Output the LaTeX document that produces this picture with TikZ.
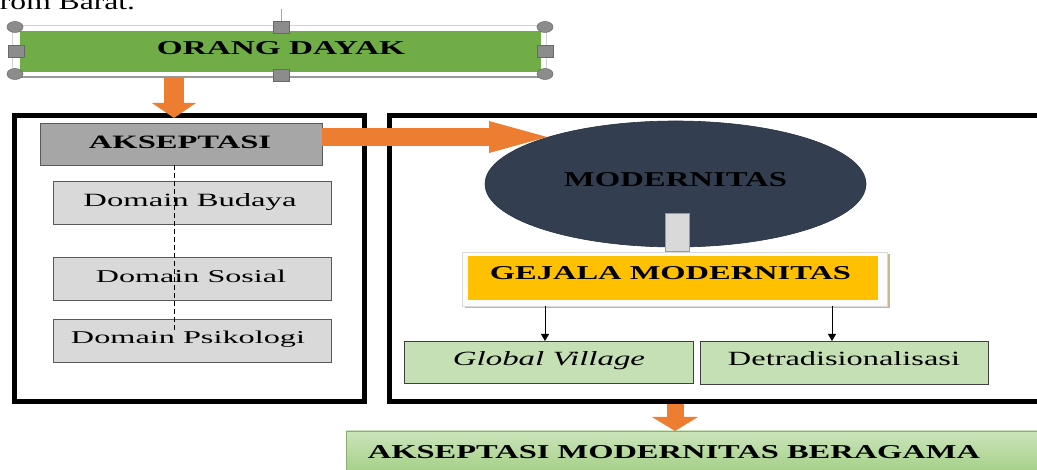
\documentclass[tikz,border=0pt]{standalone}
\usepackage{fontspec}
\setmainfont{Liberation Serif}
\usepackage{graphicx}
\usetikzlibrary{arrows.meta,shapes.geometric}
\definecolor{ogreen}{HTML}{70AD47}
\definecolor{oorange}{HTML}{ED7D31}
\definecolor{akgray}{HTML}{A6A6A6}
\definecolor{domgray}{HTML}{D9D9D9}
\definecolor{navy}{HTML}{333F50}
\definecolor{gold}{HTML}{FFC000}
\definecolor{lgreen}{HTML}{C5E0B4}
\definecolor{bgreen}{HTML}{A2CE84}
\definecolor{handle}{HTML}{8C8C8C}
\definecolor{tan}{HTML}{C9BA8E}
\newcommand{\fitt}[3]{\resizebox{#1pt}{#2pt}{#3}}
\begin{document}
\begin{tikzpicture}[x=1pt,y=-1pt,
  txt/.style={anchor=base,inner sep=0pt,outer sep=0pt},
  rbox/.style={rectangle,inner sep=0pt,outer sep=0pt,line width=0.8pt},
  bigbox/.style={rectangle,draw=black,line width=5pt,inner sep=0pt,outer sep=0pt},
  handleE/.style={ellipse,fill=handle,draw=handle!75!black,line width=0.5pt,minimum width=16pt,minimum height=11pt,inner sep=0pt},
  handleS/.style={rectangle,fill=handle,draw=handle!75!black,line width=0.5pt,minimum width=16pt,minimum height=12pt,inner sep=0pt},
  fatarrow/.style={draw=oorange,line width=#1},
  thinarrow/.style={draw=black,line width=0.8pt,-{Triangle[length=7pt,width=8pt]}}]
\useasboundingbox (0,0) rectangle (1037,470);
\clip (0,0) rectangle (1037,470);

% partial text at top
\node[txt] (top) at (67.5,10) {\fitt{135}{15}{rom Barat.}};

% ORANG DAYAK
\draw[gray!70,line width=0.6pt] (281,9) -- (281,21);
\node[rbox,fill=white,draw=gray!35,minimum width=534pt,minimum height=52pt] (orangframe) at (279,51) {};
\draw[gray!80,line width=1.2pt] (orangframe.south west) -- (orangframe.south east);
\node[rbox,fill=ogreen,minimum width=521pt,minimum height=41pt] (orang) at (280.5,51.5) {};
\node[txt] (t-orang) at (281,55) {\fitt{248}{13}{\bfseries ORANG DAYAK}};
\node[handleE] (h1) at (15,27) {};
\node[handleE] (h2) at (545,27) {};
\node[handleE] (h3) at (15,74) {};
\node[handleE] (h4) at (545,74) {};
\node[handleS] (h5) at (16,51) {};
\node[handleS] (h6) at (545,51) {};
\node[handleS] (h7) at (281,27) {};
\node[handleS] (h8) at (281,75) {};

% big containers
\node[bigbox,minimum width=350pt,minimum height=286pt] (leftbox) at (189.5,258.5) {};
\node[bigbox,minimum width=660pt,minimum height=286pt] (rightbox) at (719.5,258.5) {};

% left column
\node[rbox,fill=akgray,draw=black!65,minimum width=282pt,minimum height=42pt] (aks) at (181,144) {};
\node[txt] (t-aks) at (180,149) {\fitt{182}{12.5}{\bfseries AKSEPTASI}};
\node[rbox,fill=domgray,draw=black!65,minimum width=278pt,minimum height=43pt] (dbud) at (192,202.5) {};
\node[txt] (t-dbud) at (190,207) {\fitt{213}{13}{Domain Budaya}};
\node[rbox,fill=domgray,draw=black!65,minimum width=278pt,minimum height=43pt] (dsos) at (192,278.5) {};
\node[txt] (t-dsos) at (191,283) {\fitt{190}{12.5}{Domain Sosial}};
\node[rbox,fill=domgray,draw=black!65,minimum width=278pt,minimum height=43pt] (dpsi) at (192,340.5) {};
\node[txt] (t-dpsi) at (188,344) {\fitt{234}{12.5}{Domain Psikologi}};
\coordinate (dashend) at (174,330);
\draw[black,line width=1pt,dash pattern=on 5pt off 3pt] (aks.south -| dashend) -- (dashend);

% right column
\node[ellipse,fill=navy,draw=navy!80!black,line width=0.6pt,minimum width=381pt,minimum height=126pt,inner sep=0pt] (modern) at (675.5,184) {};
\node[txt] (t-modern) at (675.5,187) {\fitt{223}{14}{\bfseries MODERNITAS}};
\node[rbox,fill=domgray,draw=gray!80,minimum width=24pt,minimum height=38pt] (link) at (677,232) {};
\node[rbox,fill=tan,minimum width=425pt,minimum height=54pt] (gshadow) at (677.5,281) {};
\node[rbox,fill=white!97!gray,draw=gray!30,line width=0.5pt,minimum width=425pt,minimum height=54pt] (gframe) at (674.5,279) {};
\node[rbox,fill=gold,minimum width=410pt,minimum height=44pt] (gejala) at (673,278) {};
\node[txt] (t-gejala) at (670.5,280) {\fitt{361}{13}{\bfseries GEJALA MODERNITAS}};
\node[rbox,fill=lgreen,draw=black!75,minimum width=289pt,minimum height=42pt] (gv) at (548.5,362) {};
\node[txt] (t-gv) at (549,366) {\fitt{192}{14}{\itshape Global Village}};
\node[rbox,fill=lgreen,draw=black!75,minimum width=288pt,minimum height=43pt] (detr) at (844,362.5) {};
\node[txt] (t-detr) at (844,366) {\fitt{232}{14}{Detradisionalisasi}};
\coordinate (ga) at (545,306);
\coordinate (gb) at (832,306);
\draw[thinarrow] (ga) -- (gv.north -| ga);
\draw[thinarrow] (gb) -- (detr.north -| gb);

% bottom box
\node[rbox,top color=bgreen!55!white,bottom color=bgreen,draw=bgreen!85!black,line width=0.6pt,minimum width=699pt,minimum height=44pt] (final) at (695.5,453) {};
\node[txt] (t-final) at (674,458) {\fitt{612}{13}{\bfseries AKSEPTASI MODERNITAS BERAGAMA}};

% orange arrows
\coordinate (a1) at (174,77);
\coordinate (a1t) at (174,118);
\draw[fatarrow=20pt,-{Triangle[length=15pt,width=44pt,line width=0pt]}] (a1) -- (a1t);
\coordinate (a2) at (322,137);
\coordinate (a2t) at (547,137);
\draw[fatarrow=18pt,-{Triangle[length=58pt,width=32pt,line width=0pt]}] (a2) -- (a2t);
\coordinate (a3) at (675,404);
\draw[fatarrow=17pt,-{Triangle[length=14pt,width=46pt,line width=0pt]}] (a3) -- (final.north -| a3);
\end{tikzpicture}
\end{document}
